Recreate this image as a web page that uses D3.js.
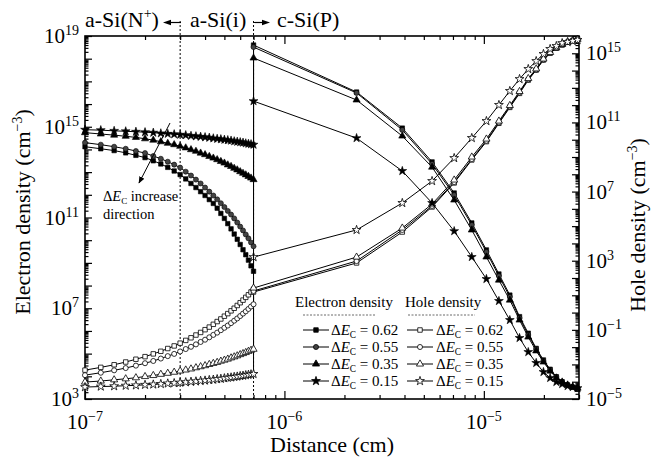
<!DOCTYPE html>
<html>
<head>
<meta charset="utf-8">
<script src="https://cdn.jsdelivr.net/npm/d3@7"></script>
<style>
  body { margin: 0; background: #fff; font-family: "Liberation Serif", serif; }
  #chart, #chart text { font-family: "Liberation Serif", serif; }
</style>
</head>
<body>
<svg id="chart" width="651" height="463">
  <text x="332" y="452" font-family="Liberation Serif" font-size="22" text-anchor="middle">Distance (cm)</text>
  <text transform="translate(30,212) rotate(-90)" font-family="Liberation Serif" font-size="22" text-anchor="middle">Electron density (cm<tspan font-size="14" dy="-8">&#8722;3</tspan><tspan dy="8">)</tspan></text>
  <text transform="translate(645,225) rotate(-90)" font-family="Liberation Serif" font-size="22" text-anchor="middle">Hole density (cm<tspan font-size="14" dy="-8">&#8722;3</tspan><tspan dy="8">)</tspan></text>
  <text x="85" y="27" font-family="Liberation Serif" font-size="22">a-Si(N<tspan font-size="14" dy="-9">+</tspan><tspan dy="9">)</tspan></text>
  <text x="190" y="27" font-family="Liberation Serif" font-size="22">a-Si(i)</text>
  <text x="277" y="27" font-family="Liberation Serif" font-size="22">c-Si(P)</text>
</svg>
<script>
// distances (cm): dense grid in a-Si, coarse grid in c-Si
const aSiDistance = [1.0e-7, 1.2e-7, 1.4e-7, 1.6e-7, 1.8e-7, 2.0e-7, 2.2e-7, 2.4e-7, 2.6e-7, 2.8e-7, 3.0e-7,
    3.2e-7, 3.4e-7, 3.6e-7, 3.8e-7, 4.0e-7, 4.2e-7, 4.4e-7, 4.6e-7, 4.8e-7, 5.0e-7,
    5.2e-7, 5.4e-7, 5.6e-7, 5.8e-7, 6.0e-7, 6.2e-7, 6.4e-7, 6.6e-7, 6.8e-7, 7.0e-7];
const cSiDistance = [0.7e-6, 2.3e-6, 3.9e-6, 5.5e-6, 7.1e-6, 8.7e-6, 10.3e-6, 11.9e-6, 13.5e-6, 15.1e-6,
    16.7e-6, 18.3e-6, 19.9e-6, 21.5e-6, 23.1e-6, 24.7e-6, 26.3e-6, 27.9e-6, 29.5e-6];

const deltaEc = ["0.62", "0.55", "0.35", "0.15"];

// electron density, log10(cm^-3), a-Si side
const eSquareASi = [14.12, 14.03, 13.95, 13.85, 13.74, 13.64, 13.50, 13.36, 13.21, 13.05, 12.89, 12.70, 12.50, 12.32, 12.14, 11.97,
    11.79, 11.62, 11.41, 11.18, 10.96, 10.73, 10.50, 10.27, 10.04, 9.81, 9.58, 9.36, 9.12, 8.87, 8.63];
const eCircleASi = [14.30, 14.21, 14.12, 14.03, 13.93, 13.84, 13.71, 13.59, 13.46, 13.33, 13.20, 13.02, 12.85, 12.67, 12.50, 12.32,
    12.14, 11.97, 11.80, 11.63, 11.46, 11.29, 11.13, 10.96, 10.78, 10.60, 10.43, 10.25, 10.08, 9.90, 9.73];
const eTriangleASi = [14.74, 14.68, 14.63, 14.58, 14.53, 14.47, 14.41, 14.34, 14.27, 14.21, 14.14, 14.07, 13.99, 13.92, 13.84, 13.77,
    13.69, 13.62, 13.55, 13.47, 13.40, 13.32, 13.25, 13.17, 13.10, 13.02, 12.95, 12.88, 12.81, 12.74, 12.67];
const eStarASi = [14.87, 14.85, 14.82, 14.80, 14.78, 14.76, 14.74, 14.71, 14.69, 14.67, 14.65, 14.63, 14.60, 14.58, 14.56, 14.54,
    14.52, 14.49, 14.47, 14.45, 14.43, 14.41, 14.39, 14.36, 14.34, 14.32, 14.30, 14.27, 14.25, 14.23, 14.21];

// electron density, log10(cm^-3), c-Si side
const eSquareCSi = [18.60, 16.53, 14.94, 13.45, 12.08, 10.76, 9.57, 8.51, 7.58, 6.63, 5.90, 5.23, 4.72, 4.31, 3.98, 3.76, 3.62, 3.52, 3.44];
const eCircleCSi = [18.51, 16.49, 14.86, 13.36, 11.99, 10.67, 9.48, 8.42, 7.50, 6.57, 5.82, 5.20, 4.67, 4.28, 3.97, 3.75, 3.62, 3.53, 3.44];
const eTriangleCSi = [18.03, 16.18, 14.59, 13.22, 11.77, 10.45, 9.26, 8.24, 7.36, 6.48, 5.73, 5.12, 4.63, 4.23, 3.93, 3.75, 3.62, 3.53, 3.48];
const eStarCSi = [16.13, 14.50, 13.05, 11.64, 10.40, 9.26, 8.29, 7.32, 6.48, 5.69, 5.07, 4.59, 4.19, 3.93, 3.75, 3.66, 3.57, 3.53, 3.48];

// hole density, log10(cm^-3), a-Si side
const hSquareASi = [-3.33, -3.17, -3.02, -2.86, -2.70, -2.55, -2.39, -2.24, -2.08, -1.93, -1.77, -1.61, -1.46, -1.30, -1.15, -0.99,
    -0.84, -0.68, -0.52, -0.37, -0.21, -0.06, 0.10, 0.25, 0.41, 0.57, 0.72, 0.88, 1.03, 1.19, 1.35];
const hCircleASi = [-3.62, -3.48, -3.34, -3.21, -3.07, -2.93, -2.80, -2.66, -2.52, -2.39, -2.25, -2.11, -1.98, -1.84, -1.70, -1.57,
    -1.43, -1.29, -1.16, -1.02, -0.88, -0.75, -0.61, -0.47, -0.34, -0.20, -0.06, 0.07, 0.21, 0.35, 0.48];
const hTriangleASi = [-4.02, -3.96, -3.89, -3.83, -3.77, -3.70, -3.64, -3.57, -3.51, -3.45, -3.38, -3.32, -3.26, -3.19, -3.13, -3.07,
    -3.00, -2.94, -2.88, -2.81, -2.75, -2.69, -2.62, -2.56, -2.50, -2.43, -2.37, -2.31, -2.24, -2.18, -2.12];
const hStarASi = [-4.31, -4.28, -4.26, -4.23, -4.21, -4.18, -4.16, -4.13, -4.10, -4.08, -4.05, -4.03, -4.00, -3.98, -3.95, -3.93,
    -3.90, -3.88, -3.85, -3.83, -3.80, -3.77, -3.75, -3.72, -3.70, -3.67, -3.65, -3.62, -3.60, -3.57, -3.55];

// hole density, log10(cm^-3), c-Si side
const hSquareCSi = [1.19, 2.87, 4.66, 6.11, 7.50, 8.83, 9.89, 10.95, 11.87, 12.68, 13.45, 14.03, 14.61, 15.00, 15.29, 15.48, 15.64, 15.73, 15.80];
const hCircleCSi = [1.25, 2.98, 4.78, 6.17, 7.55, 8.88, 9.94, 11.00, 11.92, 12.73, 13.49, 14.06, 14.64, 15.02, 15.31, 15.50, 15.65, 15.74, 15.81];
const hTriangleCSi = [1.42, 3.21, 4.89, 6.28, 7.67, 9.00, 10.04, 11.08, 11.98, 12.79, 13.54, 14.10, 14.67, 15.05, 15.32, 15.51, 15.65, 15.74, 15.81];
const hStarCSi = [3.21, 4.78, 6.34, 7.61, 8.94, 10.10, 11.08, 12.01, 12.82, 13.51, 14.09, 14.55, 14.96, 15.25, 15.42, 15.59, 15.65, 15.71, 15.77];

// tick labels (exponents)
const xLabelExp = [-7, -6, -5];
const leftLabelExp = [3, 7, 11, 15, 19];
const rightLabelExp = [-5, -1, 3, 7, 11, 15];
const regionBounds = [3e-7, 7e-7];

const FONT = "Liberation Serif";
const margin = {left: 85, right: 579, top: 36, bottom: 399};
const svg = d3.select("#chart");

const x = d3.scaleLog().domain([1e-7, 3e-5]).range([margin.left, margin.right]);
const yLeft = d3.scaleLog().domain([1e3, 1e19]).range([margin.bottom, margin.top]);
const yRight = d3.scaleLog().domain([1e-5, 1e16]).range([margin.bottom, margin.top]);

// every text goes through here so the serif font is set on the element itself
function addText(px, py, size) {
    return svg.append("text").attr("x", px).attr("y", py)
        .attr("font-family", FONT).attr("font-size", size).attr("fill", "#000");
}

function buildSeries(aSi, cSi) {
    return aSiDistance.map((d, i) => ({d: d, v: Math.pow(10, aSi[i])}))
        .concat(cSiDistance.map((d, i) => ({d: d, v: Math.pow(10, cSi[i])})));
}

const symbols = [d3.symbolSquare, d3.symbolCircle, d3.symbolTriangle, d3.symbolStar];
const symbolSizes = [20, 20, 22, 24];

const electronSeries = [
    buildSeries(eSquareASi, eSquareCSi),
    buildSeries(eCircleASi, eCircleCSi),
    buildSeries(eTriangleASi, eTriangleCSi),
    buildSeries(eStarASi, eStarCSi)
];
const holeSeries = [
    buildSeries(hSquareASi, hSquareCSi),
    buildSeries(hCircleASi, hCircleCSi),
    buildSeries(hTriangleASi, hTriangleCSi),
    buildSeries(hStarASi, hStarCSi)
];

// log ticks: all 1..9 multiples, flag decades
function logTicks(lo, hi, maxV) {
    const t = [];
    for (let k = lo; k <= hi; k++) {
        for (let m = 1; m < 10; m++) {
            const v = m * Math.pow(10, k);
            if (v <= maxV * 1.0001) t.push({v: v, major: m === 1});
        }
    }
    return t;
}
const xTicks = logTicks(-7, -5, 3e-5);
const leftTicks = logTicks(3, 19, 1e19);
const rightTicks = logTicks(-5, 16, 1e16);

// region dividers (dotted)
svg.append("g").selectAll("line").data(regionBounds).join("line")
    .attr("x1", d => x(d)).attr("x2", d => x(d))
    .attr("y1", 21).attr("y2", margin.bottom)
    .attr("stroke", "#000").attr("stroke-width", 1)
    .attr("stroke-dasharray", "2,2");

// axes (inward ticks)
function addAxis(axis, transform, vals, size) {
    svg.append("g").attr("transform", transform)
        .call(axis.tickValues(vals).tickSizeInner(size).tickSizeOuter(0).tickFormat(""))
        .call(g => g.select(".domain").remove())
        .call(g => g.selectAll(".tick line").attr("stroke", "#000").attr("stroke-width", 1.2));
}
const majorOf = arr => arr.filter(t => t.major).map(t => t.v);
const minorOf = arr => arr.filter(t => !t.major).map(t => t.v);

addAxis(d3.axisBottom(x), `translate(0,${margin.bottom})`, majorOf(xTicks), -8);
addAxis(d3.axisBottom(x), `translate(0,${margin.bottom})`, minorOf(xTicks), -4);
addAxis(d3.axisTop(x), `translate(0,${margin.top})`, majorOf(xTicks), -8);
addAxis(d3.axisTop(x), `translate(0,${margin.top})`, minorOf(xTicks), -4);
addAxis(d3.axisLeft(yLeft), `translate(${margin.left},0)`, majorOf(leftTicks), -7);
addAxis(d3.axisLeft(yLeft), `translate(${margin.left},0)`, minorOf(leftTicks), -3.5);
addAxis(d3.axisRight(yRight), `translate(${margin.right},0)`, majorOf(rightTicks), -7);
addAxis(d3.axisRight(yRight), `translate(${margin.right},0)`, minorOf(rightTicks), -3.5);

// frame
svg.append("rect")
    .attr("x", margin.left).attr("y", margin.top)
    .attr("width", margin.right - margin.left).attr("height", margin.bottom - margin.top)
    .attr("fill", "none").attr("stroke", "#000").attr("stroke-width", 1.6);

// curves
const plot = svg.append("g");
function drawSeries(series, yScale, filled) {
    series.forEach((pts, i) => {
        plot.append("path").datum(pts)
            .attr("fill", "none").attr("stroke", "#000").attr("stroke-width", 1)
            .attr("d", d3.line().x(p => x(p.d)).y(p => yScale(p.v)));
    });
    series.forEach((pts, i) => {
        plot.append("g").selectAll("path").data(pts).join("path")
            .attr("transform", p => `translate(${x(p.d)},${yScale(p.v)})`)
            .attr("d", d3.symbol(symbols[i], symbolSizes[i]))
            .attr("fill", filled ? (i === 1 ? "#444" : "#000") : "#fff")
            .attr("stroke", "#000").attr("stroke-width", filled ? 0.6 : 0.8);
    });
}
drawSeries(holeSeries, yRight, false);
drawSeries(electronSeries, yLeft, true);

// tick labels
function powerLabel(sel, exp) {
    sel.append("tspan").text("10");
    sel.append("tspan").attr("font-size", 14).attr("dy", -8)
        .text(exp < 0 ? "\u2212" + (-exp) : String(exp));
}
xLabelExp.forEach(e => {
    powerLabel(addText(x(Math.pow(10, e)), 429, 21).attr("text-anchor", "middle"), e);
});
leftLabelExp.forEach(e => {
    powerLabel(addText(79, yLeft(Math.pow(10, e)) + 7, 21).attr("text-anchor", "end"), e);
});
rightLabelExp.forEach(e => {
    powerLabel(addText(586, yRight(Math.pow(10, e)) + 7, 21), e);
});

// small arrows next to the dividers
svg.append("line").attr("x1", 181).attr("x2", 168).attr("y1", 22.5).attr("y2", 22.5).attr("stroke", "#000").attr("stroke-width", 1.2);
svg.append("path").attr("d", "M163,22.5L171,19.8L171,25.2Z").attr("fill", "#000");
svg.append("line").attr("x1", 254).attr("x2", 265).attr("y1", 22.5).attr("y2", 22.5).attr("stroke", "#000").attr("stroke-width", 1.2);
svg.append("path").attr("d", "M270,22.5L262,19.8L262,25.2Z").attr("fill", "#000");

// annotation arrow
svg.append("defs").append("marker")
    .attr("id", "head").attr("viewBox", "0 0 10 10").attr("refX", 9).attr("refY", 5)
    .attr("markerWidth", 7).attr("markerHeight", 7).attr("orient", "auto")
    .append("path").attr("d", "M0,1L10,5L0,9Z").attr("fill", "#000");
svg.append("line").attr("x1", 170).attr("y1", 123).attr("x2", 139).attr("y2", 183)
    .attr("stroke", "#000").attr("stroke-width", 1).attr("marker-end", "url(#head)");

function deltaText(sel, rest) {
    sel.append("tspan").text("\u0394");
    sel.append("tspan").attr("font-style", "italic").text("E");
    sel.append("tspan").attr("font-size", "0.62em").attr("dy", 3).text("C");
    sel.append("tspan").attr("dy", -3).text(rest);
}
deltaText(addText(103, 201, 14.5), " increase");
addText(103, 219, 14.5).text("direction");

// legend
const legendCols = [
    {title: "Electron density", tx: 295, rule: [303, 375], line: [303, 329], text: 331, filled: true},
    {title: "Hole density", tx: 405, rule: [408, 475], line: [407, 433], text: 436, filled: false}
];
const rowY = [330, 347, 364, 381];
legendCols.forEach(col => {
    addText(col.tx, 307, 15).text(col.title);
    svg.append("line").attr("x1", col.rule[0]).attr("x2", col.rule[1]).attr("y1", 315).attr("y2", 315)
        .attr("stroke", "#444").attr("stroke-width", 0.8).attr("stroke-dasharray", "2,1.5");
    deltaEc.forEach((val, i) => {
        const yy = rowY[i];
        svg.append("line").attr("x1", col.line[0]).attr("x2", col.line[1]).attr("y1", yy).attr("y2", yy)
            .attr("stroke", "#000").attr("stroke-width", 1);
        svg.append("path").attr("transform", `translate(${(col.line[0] + col.line[1]) / 2},${yy})`)
            .attr("d", d3.symbol(symbols[i], symbolSizes[i]))
            .attr("fill", col.filled ? (i === 1 ? "#444" : "#000") : "#fff")
            .attr("stroke", "#000").attr("stroke-width", 0.8);
        deltaText(addText(col.text, yy + 5, 15), " = " + val);
    });
});
</script>
</body>
</html>
